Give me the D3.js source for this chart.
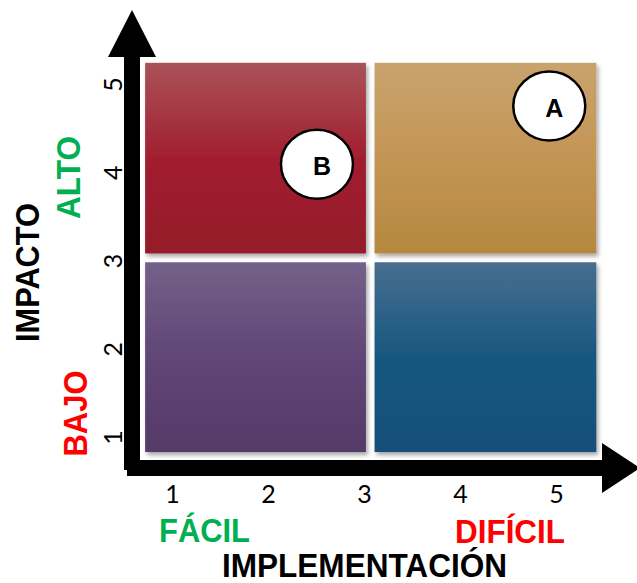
<!DOCTYPE html>
<html>
<head>
<meta charset="utf-8">
<script src="https://cdn.jsdelivr.net/npm/d3@7"></script>
<style>
  html, body { margin: 0; padding: 0; background: #ffffff; }
  svg { display: block; }
</style>
</head>
<body>
<svg id="chart" width="637" height="583"></svg>
<script>
// Axis ticks
const xTicks = [1, 2, 3, 4, 5];
const yTicks = [1, 2, 3, 4, 5];

// Quadrant extents on the 1–5 scales (low / high band per axis)
const xBandLow = [0.72, 3.02];
const xBandHigh = [3.11, 5.42];
const yBandLow = [0.83, 2.98];
const yBandHigh = [3.08, 5.24];

// Quadrants: which band each uses, and its gradient (top, middle, bottom)
const quadrantX = ["low", "high", "low", "high"];
const quadrantY = ["high", "high", "low", "low"];
const quadrantTop = ["#aa5259", "#c9a36d", "#746189", "#486e90"];
const quadrantMid = ["#a11f2f", "#c39555", "#604676", "#17577f"];
const quadrantBottom = ["#951a2a", "#b5883f", "#553a68", "#154f79"];

// Plotted items
const pointLabels = ["A", "B"];
const pointX = [4.93, 2.51];
const pointY = [4.75, 4.09];

const svg = d3.select("#chart");
const x = d3.scaleLinear().domain([1, 5]).range([172, 556]);
const y = d3.scaleLinear().domain([1, 5]).range([437, 84]);

const defs = svg.append("defs");
const shadow = defs.append("filter").attr("id", "shadow")
  .attr("x", "-10%").attr("y", "-10%").attr("width", "120%").attr("height", "120%");
shadow.append("feDropShadow").attr("dx", 2).attr("dy", 3).attr("stdDeviation", 2)
  .attr("flood-color", "#000").attr("flood-opacity", 0.35);

quadrantTop.forEach((c, i) => {
  const g = defs.append("linearGradient").attr("id", "grad" + i)
    .attr("x1", 0).attr("y1", 0).attr("x2", 0).attr("y2", 1);
  g.append("stop").attr("offset", "0%").attr("stop-color", quadrantTop[i]);
  g.append("stop").attr("offset", "50%").attr("stop-color", quadrantMid[i]);
  g.append("stop").attr("offset", "100%").attr("stop-color", quadrantBottom[i]);
});

const band = (b, lo, hi) => (b === "low" ? lo : hi);

// Quadrant rectangles
svg.append("g").selectAll("rect")
  .data(quadrantTop.map((_, i) => i))
  .join("rect")
  .attr("x", i => x(band(quadrantX[i], xBandLow, xBandHigh)[0]))
  .attr("width", i => { const b = band(quadrantX[i], xBandLow, xBandHigh); return x(b[1]) - x(b[0]); })
  .attr("y", i => y(band(quadrantY[i], yBandLow, yBandHigh)[1]))
  .attr("height", i => { const b = band(quadrantY[i], yBandLow, yBandHigh); return y(b[0]) - y(b[1]); })
  .attr("fill", i => `url(#grad${i})`)
  .attr("filter", "url(#shadow)");

// Thick arrowed axes
const axes = svg.append("g").attr("fill", "#000");
axes.append("rect").attr("x", 124).attr("y", 56).attr("width", 16).attr("height", 414);
axes.append("path").attr("d", "M108,57 L156,57 L132,10 Z");
axes.append("rect").attr("x", 127).attr("y", 460).attr("width", 476).attr("height", 16);
axes.append("path").attr("d", "M602,443 L602,493 L640,468 Z");

// Tick labels
const tickFont = "Lato, 'Open Sans', sans-serif";
const gx = svg.append("g").call(d3.axisBottom(x).tickValues(xTicks).tickSize(0).tickFormat(d3.format("d")));
gx.select(".domain").remove();
gx.selectAll("text")
  .attr("y", 503).attr("dy", null)
  .attr("font-family", tickFont).attr("font-size", 25).attr("fill", "#000");

const gy = svg.append("g").call(d3.axisLeft(y).tickValues(yTicks).tickSize(0).tickFormat(d3.format("d")));
gy.select(".domain").remove();
gy.selectAll("text")
  .attr("x", null).attr("dy", null)
  .attr("text-anchor", "middle")
  .attr("transform", "translate(122,0) rotate(-90)")
  .attr("font-family", tickFont).attr("font-size", 25).attr("fill", "#000");

// Point markers
const pts = svg.append("g").selectAll("g")
  .data(pointLabels.map((l, i) => ({ l, vx: pointX[i], vy: pointY[i] })))
  .join("g")
  .attr("transform", d => `translate(${x(d.vx)},${y(d.vy)})`);
pts.append("ellipse").attr("rx", 36).attr("ry", 34.5)
  .attr("fill", "#fff").attr("stroke", "#000").attr("stroke-width", 2.5);
pts.append("text").text(d => d.l)
  .attr("x", 5).attr("y", 11)
  .attr("text-anchor", "middle")
  .attr("font-family", "'Liberation Sans', Arial, sans-serif")
  .attr("font-weight", "bold").attr("font-size", 25).attr("fill", "#000");

// Axis titles and band labels
const labelFont = "'Liberation Sans', Arial, sans-serif";
function label(text, tx, ty, rot, color, len) {
  svg.append("text").text(text)
    .attr("transform", `translate(${tx},${ty})` + (rot ? " rotate(-90)" : ""))
    .attr("text-anchor", "middle")
    .attr("textLength", len).attr("lengthAdjust", "spacingAndGlyphs")
    .attr("font-family", labelFont).attr("font-weight", "bold")
    .attr("font-size", 32.5).attr("fill", color);
}
label("IMPACTO", 39, 272.5, true, "#000", 139);
label("ALTO", 80, 177.5, true, "#00b050", 83);
label("BAJO", 87, 413.5, true, "#ff0000", 86);
label("FÁCIL", 204.5, 542, false, "#00b050", 91);
label("DIFÍCIL", 510, 543, false, "#ff0000", 110);
label("IMPLEMENTACIÓN", 364.5, 577, false, "#000", 285);
</script>
</body>
</html>
